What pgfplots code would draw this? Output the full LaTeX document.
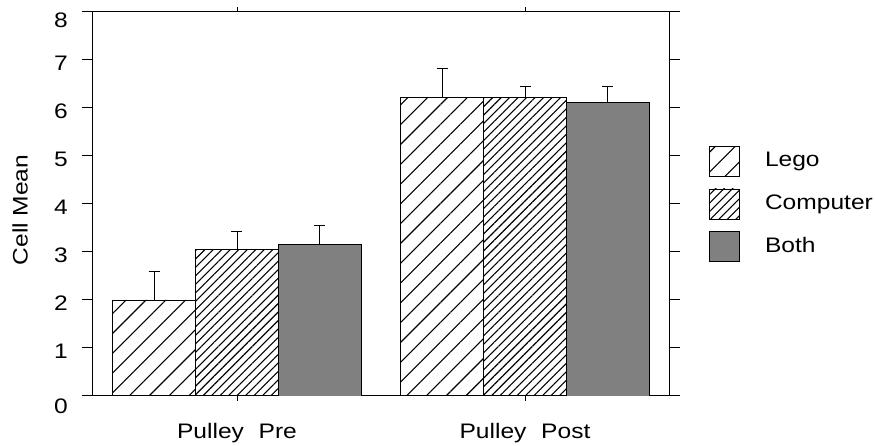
\documentclass[border=0pt]{standalone}
\usepackage{fontspec}
\setmainfont{Liberation Sans}[FakeStretch=1.17]
\usepackage{pgfplots}
\usepackage{pgfplotstable}
\pgfplotsset{compat=1.18}
\usetikzlibrary{patterns.meta}

\pgfplotstableread{
x y e
-0.2875 2.00 0.59
0.7125 6.22 0.60
}\lego
\pgfplotstableread{
x y e
0 3.05 0.38
1 6.22 0.22
}\computer
\pgfplotstableread{
x y e
0.2875 3.16 0.39
1.2875 6.12 0.32
}\both

\newcommand{\fnt}{\fontsize{21}{25}\selectfont}

\begin{document}
\fnt
\begin{tikzpicture}
\begin{axis}[
  name=ax,
  scale only axis, width=576pt, height=384pt,
  xmin=-0.5, xmax=1.5, ymin=0, ymax=8,
  xtick={0,1},
  xticklabels={Pulley\hspace{0.7em}Pre, Pulley\hspace{0.7em}Post},
  ytick={0,1,2,3,4,5,6,7,8},
  yticklabels={\raisebox{-6.5pt}{0},1,2,3,4,5,6,7,\raisebox{-4.5pt}{8}},
  tick align=outside,
  major tick length=11pt,
  every x tick/.style={black, line width=1pt, /pgfplots/major tick length=5pt},
  every y tick/.style={black, line width=1pt},
  minor tick num=0,
  axis line style={line width=1pt, black},
  /pgf/number format/assume math mode=true,
  every tick label/.append style={font=\fnt},
  y tick label style={anchor=base east, inner sep=0pt, xshift=-14pt, yshift=-10.9pt},
  x tick label style={anchor=base, inner sep=0pt, yshift=-32pt},
  ylabel={Cell Mean},
  every axis y label/.style={at={(rel axis cs:0,0.5)}, xshift=-73pt, yshift=-6pt, rotate=90, anchor=center, font=\fnt},
  legend style={draw=none, fill=none, at={(1,0.5)}, anchor=west, xshift=37pt,
    row sep=12pt, font=\fnt, nodes={inner sep=0pt}},
  legend cell align=left,
  /tikz/every odd column/.append style={column sep=25pt},
  mybar/.style={ybar, bar width=0.2875, bar shift=0, draw=black, line width=0.8pt,
    legend image code/.code={\draw[##1, draw=black, line width=0.8pt] (0pt,-15pt) rectangle (30pt,15pt);},
    error bars/y dir=plus, error bars/y explicit,
    error bars/error mark=-,
    error bars/error bar style={line width=1pt, black, solid},
    error bars/error mark options={rotate=90, mark size=5.5pt, line width=1pt, black, solid}},
]
\addplot[mybar, pattern={Lines[angle=45,distance=14pt,line width=1.1pt]}, pattern color=black]
  table[x=x, y=y, y error=e] {\lego};
\addplot[mybar, pattern={Lines[angle=45,distance=6pt,line width=1.1pt]}, pattern color=black]
  table[x=x, y=y, y error=e] {\computer};
\addplot[mybar, fill=black!50]
  table[x=x, y=y, y error=e] {\both};
\legend{Lego, Computer, Both}
\end{axis}
\pgfresetboundingbox
\path (ax.south west) ++(-93pt,-50pt) rectangle ++(875pt,446pt);
\end{tikzpicture}
\end{document}
